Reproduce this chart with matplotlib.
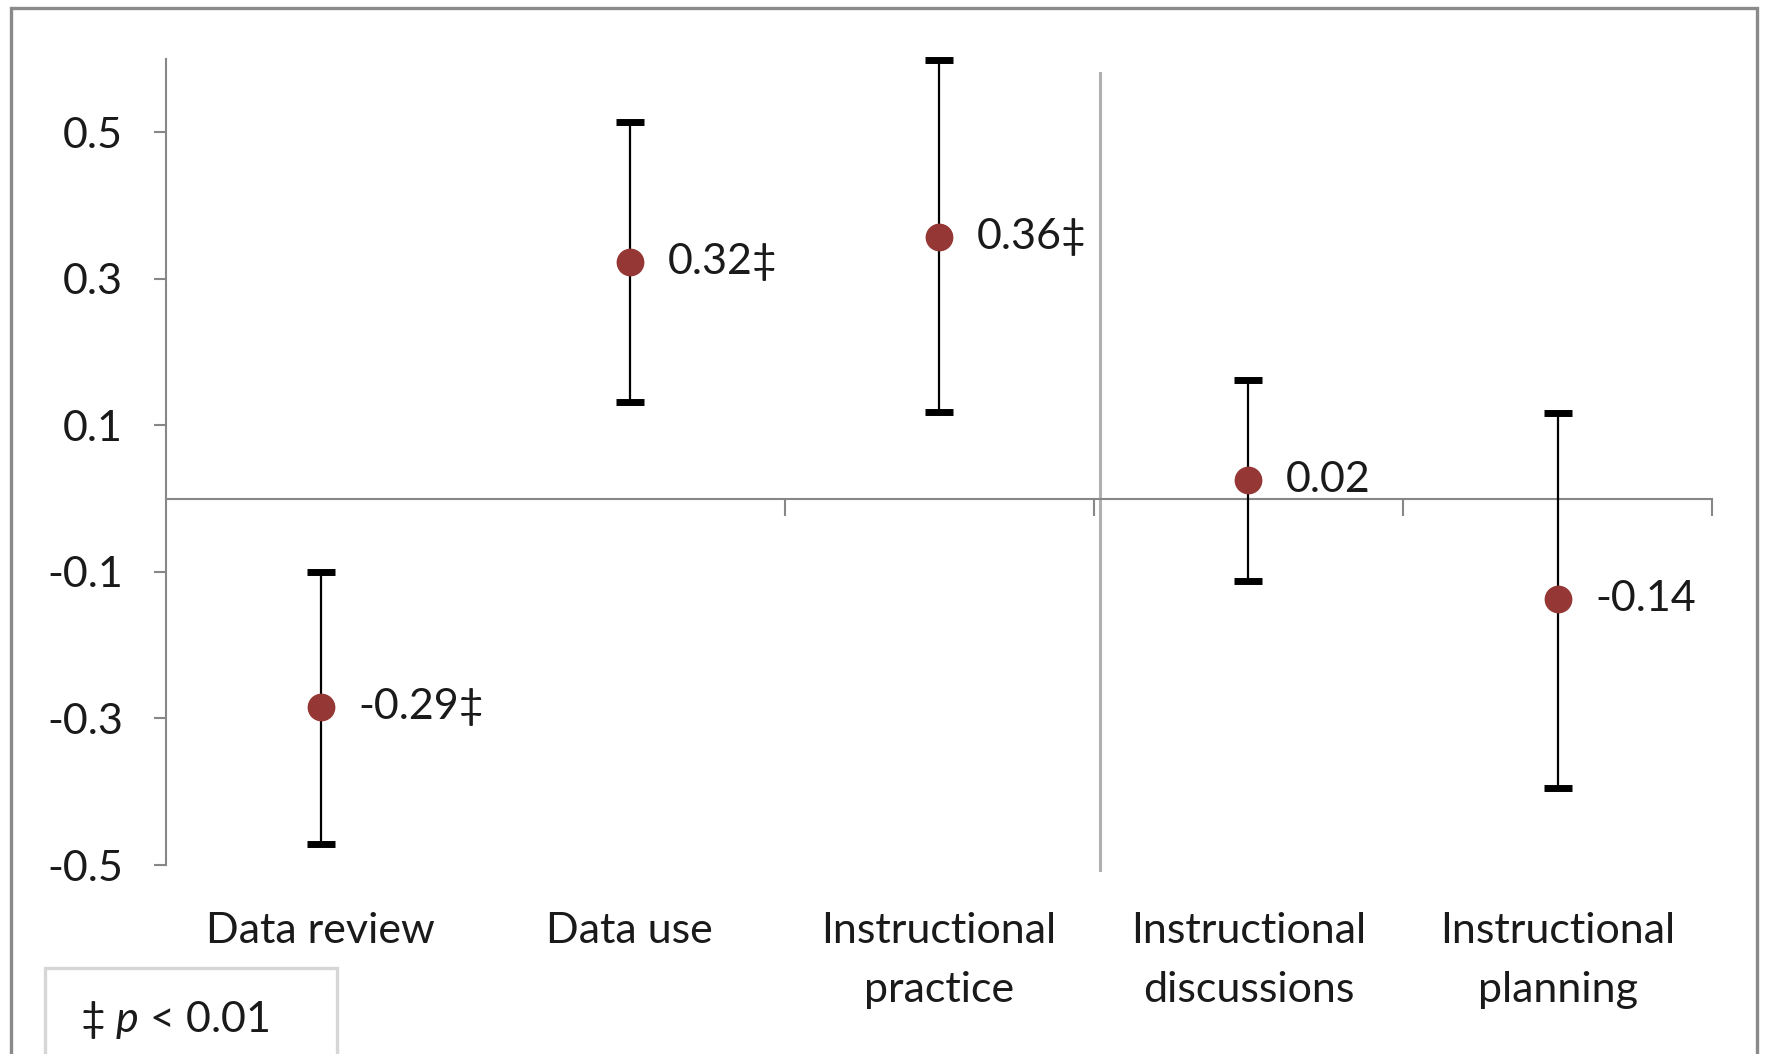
import numpy as np
import matplotlib.pyplot as plt
from matplotlib.patches import Rectangle

plt.rcParams['font.family'] = ['Lato', 'DejaVu Sans']
plt.rcParams['mathtext.fontset'] = 'custom'
plt.rcParams['mathtext.it'] = 'Lato:italic'
plt.rcParams['mathtext.rm'] = 'Lato'

categories = ['Data review', 'Data use', 'Instructional\npractice',
              'Instructional\ndiscussions', 'Instructional\nplanning']
estimates = [-0.285, 0.322, 0.357, 0.025, -0.137]
ci_low = [-0.472, 0.131, 0.118, -0.112, -0.395]
ci_high = [-0.100, 0.514, 0.598, 0.162, 0.117]
value_labels = ['-0.29‡', '0.32‡', '0.36‡', '0.02', '-0.14']
y_ticks = [-0.5, -0.3, -0.1, 0.1, 0.3, 0.5]
y_tick_labels = ['-0.5', '-0.3', '-0.1', '0.1', '0.3', '0.5']
note = r'‡ $\it{p}$ < 0.01'

AXIS_GREY = '#878787'
MARKER_RED = '#953735'
TEXT = '#1a1a1a'
FS = 31

x = np.arange(len(categories))
est = np.array(estimates)
err = np.vstack([est - np.array(ci_low), np.array(ci_high) - est])

fig = plt.figure(figsize=(17.71, 10.54), dpi=100)
ax = fig.add_axes([0.0937, 0.1793, 0.8732, 0.765])

ax.errorbar(x, est, yerr=err, fmt='none', ecolor='black', elinewidth=1.6,
            capsize=10, capthick=5, clip_on=False, zorder=3)
ax.plot(x, est, 'o', color=MARKER_RED, markersize=19, clip_on=False, zorder=4)

for xi, yi, lab in zip(x, est, value_labels):
    ax.annotate(lab, (xi, yi), xytext=(27, 0), textcoords='offset points',
                va='center', ha='left', fontsize=FS, color=TEXT)

ax.set_xlim(-0.5, len(categories) - 0.5)
ax.set_ylim(-0.5, 0.6)

# separator between the two groups of outcomes
SPLIT_X = 2.52
ax.axvline(SPLIT_X, ymin=-0.006, ymax=0.982, color='#b0b0b0', lw=2.2,
           clip_on=False, zorder=1)

for s in ['top', 'right']:
    ax.spines[s].set_visible(False)
ax.spines['bottom'].set_position(('data', 0))
for s in ['left', 'bottom']:
    ax.spines[s].set_color(AXIS_GREY)
    ax.spines[s].set_linewidth(1.5)

ax.set_yticks(y_ticks, y_tick_labels)
ax.tick_params(axis='y', length=9, width=1.5, color=AXIS_GREY, pad=22,
               labelsize=FS, labelcolor=TEXT)
ax.set_xticks(x[1:] + 0.5)
ax.tick_params(axis='x', length=12, width=1.5, color=AXIS_GREY,
               labelbottom=False)

sec = ax.secondary_xaxis(0.0)
sec.set_xticks(x, categories)
sec.tick_params(length=0, pad=34, labelsize=FS, labelcolor=TEXT)
sec.spines['bottom'].set_visible(False)
for t in sec.get_xticklabels():
    t.set_linespacing(1.68)

# outer chart border and significance note
fig.patches.append(Rectangle((0.0062, -0.02), 0.9858, 1.0124, fill=False,
                             edgecolor='#8a8a8a', lw=2.4,
                             transform=fig.transFigure))
fig.patches.append(Rectangle((0.0254, -0.02), 0.1648, 0.1016, fill=False,
                             edgecolor='#d6d6d6', lw=2.4,
                             transform=fig.transFigure))
fig.text(0.045, 0.032, note, fontsize=FS, va='center', ha='left', color=TEXT)

fig.savefig('out.png', dpi=100, facecolor='white')
